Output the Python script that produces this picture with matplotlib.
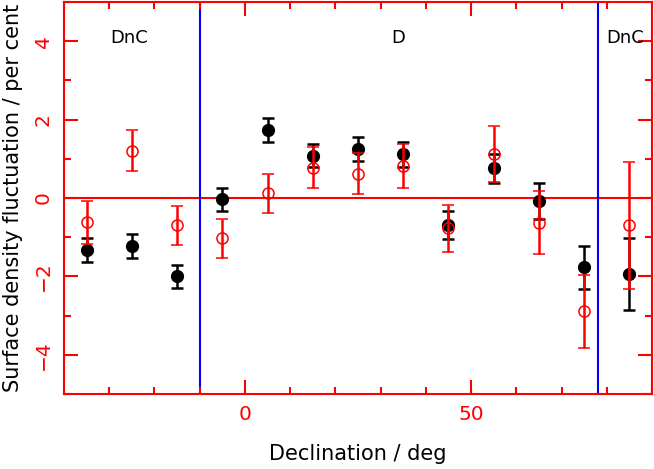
import numpy as np
import matplotlib
matplotlib.use('Agg')
import matplotlib.pyplot as plt
from matplotlib.ticker import MultipleLocator

# declination bin centres
dec = [-35, -25, -15, -5, 5, 15, 25, 35, 45, 55, 65, 75, 85]

# filled black points
black_val = [-1.32, -1.22, -2.0, -0.03, 1.73, 1.08, 1.25, 1.11, -0.69, 0.76, -0.08, -1.77, -1.94]
black_err = [0.31, 0.30, 0.30, 0.29, 0.30, 0.30, 0.30, 0.31, 0.35, 0.37, 0.46, 0.55, 0.92]

# open red points
red_val = [-0.62, 1.21, -0.70, -1.03, 0.12, 0.77, 0.62, 0.82, -0.77, 1.12, -0.63, -2.89, -0.70]
red_err = [0.55, 0.52, 0.50, 0.50, 0.50, 0.52, 0.53, 0.56, 0.60, 0.71, 0.80, 0.93, 1.62]

# region boundaries and labels
bounds = [-10, 78]
region_x = [-25.5, 33.8, 84]
region_txt = ['DnC', 'D', 'DnC']

plt.rcParams['font.family'] = ['DejaVu Sans']
RED = '#ff0000'

fig = plt.figure(figsize=(6.54, 4.69), dpi=100)
ax = fig.add_axes([64 / 654, 1 - 394 / 469, 588 / 654, 392 / 469])

ax.axhline(0, color=RED, lw=1.5, zorder=1)
for b in bounds:
    ax.axvline(b, color='#0000ff', lw=1.5, zorder=1)

ax.errorbar(dec, black_val, yerr=black_err, fmt='o', color='black',
            ms=8.5, capsize=4, elinewidth=1.8, capthick=1.8, zorder=3)
ax.errorbar(dec, red_val, yerr=red_err, fmt='o', color=RED, mfc='none',
            ms=8, mew=1.1, capsize=4, elinewidth=1.8, capthick=1.8, zorder=4)

for x, t in zip(region_x, region_txt):
    ax.text(x, 4.08, t, ha='center', va='center', fontsize=13)

ax.set_xlim(-40, 90)
ax.set_ylim(-5, 5)
ax.xaxis.set_major_locator(MultipleLocator(50))
ax.xaxis.set_minor_locator(MultipleLocator(10))
ax.yaxis.set_major_locator(MultipleLocator(2))
ax.yaxis.set_minor_locator(MultipleLocator(1))
ax.tick_params(which='both', direction='in', top=True, right=True,
               color=RED, labelcolor=RED, width=1.5, labelsize=14.5)
ax.tick_params(which='major', length=10, pad=8)
ax.tick_params(which='minor', length=5)
for lab in ax.get_yticklabels():
    lab.set_rotation(90)
    lab.set_va('center')
for s in ax.spines.values():
    s.set_color(RED)
    s.set_linewidth(1.5)

ax.set_xlabel('Declination / deg', fontsize=15, labelpad=14)
ax.set_ylabel('Surface density fluctuation / per cent', fontsize=15, labelpad=8)

fig.savefig('out.png', dpi=100)
